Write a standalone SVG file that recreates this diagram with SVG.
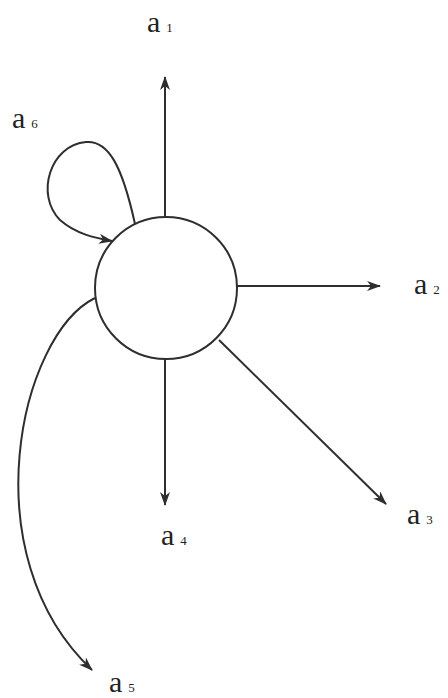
<svg xmlns="http://www.w3.org/2000/svg" width="448" height="698" viewBox="0 0 448 698">
<defs>
<marker id="ah" viewBox="0 0 14 10" refX="13" refY="5" markerWidth="14" markerHeight="10" markerUnits="userSpaceOnUse" orient="auto">
<path d="M0,0 L14,5 L0,10 L4,5 Z" fill="#2e2e2e"/>
</marker>
</defs>
<style>
.edge{fill:none;stroke:#2e2e2e;stroke-width:2;marker-end:url(#ah)}
.node{fill:#fff;stroke:#2e2e2e;stroke-width:2}
.lbl{font-family:"Liberation Serif",serif;font-size:30px;fill:#222}
.sub{font-size:13px}
</style>
<rect width="448" height="698" fill="#fff"/>
<g id="connectors">
<path class="edge" d="M165,216 L165,77"/>
<path class="edge" d="M237,286 L380,286"/>
<path class="edge" d="M219,340 L386,504"/>
<path class="edge" d="M165,359 L165,505"/>
<path class="edge" d="M95,298 C20,335 -30,555 92,670"/>
<path class="edge" d="M135,224 C122,165 108,140 86,142 C50,145 35,195 60,220 C76,234 95,238 112,241"/>
</g>
<g id="center">
<circle class="node" cx="166" cy="288" r="71"/>
</g>
<g id="a1"><text class="lbl" x="147" y="32">a<tspan class="sub" dx="6">1</tspan></text></g>
<g id="a2"><text class="lbl" x="414" y="294">a<tspan class="sub" dx="6">2</tspan></text></g>
<g id="a3"><text class="lbl" x="407" y="524">a<tspan class="sub" dx="6">3</tspan></text></g>
<g id="a4"><text class="lbl" x="161" y="545">a<tspan class="sub" dx="6">4</tspan></text></g>
<g id="a5"><text class="lbl" x="109" y="692">a<tspan class="sub" dx="6">5</tspan></text></g>
<g id="a6"><text class="lbl" x="12" y="128">a<tspan class="sub" dx="6">6</tspan></text></g>
</svg>
